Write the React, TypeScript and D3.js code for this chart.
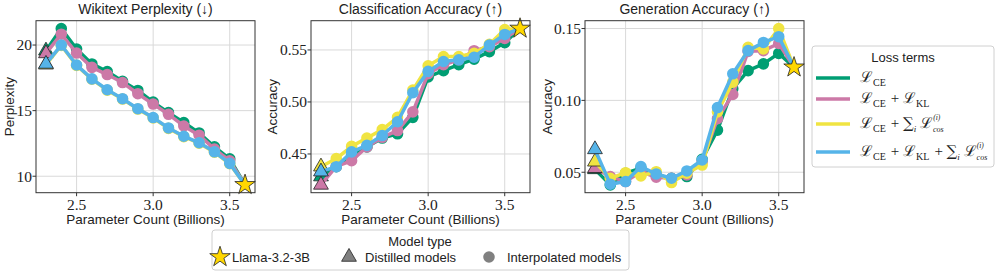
import React from "react";
import * as d3 from "d3";

// interpolated models sit between the distilled model (2.3B) and Llama (3.6B)
const interpX = [2.4, 2.5, 2.6, 2.7, 2.8, 2.9, 3.0, 3.1, 3.2, 3.3, 3.4, 3.5];
const distilledX = 2.3;
const llamaX = 3.6;

const lossNames = ["CE", "CE+KL", "CE+cos", "CE+KL+cos"];
const colors = ["#009E73", "#CC79A7", "#F0E442", "#56B4E9"];

// Wikitext perplexity
const pplSeries = [
  [21.26, 19.7, 18.56, 17.98, 17.24, 16.54, 15.65, 14.85, 14.09, 13.3, 12.24, 11.33],
  [20.83, 19.39, 18.3, 17.75, 17.14, 16.29, 15.5, 14.72, 13.83, 13.13, 12.07, 11.18],
  [19.97, 18.45, 17.39, 16.56, 15.88, 15.12, 14.44, 13.65, 13.02, 12.52, 11.83, 10.95],
  [20.0, 18.48, 17.42, 16.59, 15.91, 15.15, 14.47, 13.68, 13.05, 12.55, 11.86, 10.98],
];
const pplDistilled = [19.57, 19.36, 18.5, 18.56];
const pplLlama = 9.34;

// classification accuracy
const clsSeries = [
  [0.4378, 0.4473, 0.4567, 0.4653, 0.4694, 0.4852, 0.5241, 0.5301, 0.5358, 0.5412, 0.5484, 0.5569],
  [0.438, 0.4435, 0.4567, 0.466, 0.4725, 0.4905, 0.5272, 0.5358, 0.5405, 0.5493, 0.5531, 0.5611],
  [0.4456, 0.4573, 0.4653, 0.4734, 0.4852, 0.5114, 0.5348, 0.5437, 0.5437, 0.5468, 0.5554, 0.5696],
  [0.4378, 0.452, 0.4583, 0.4677, 0.481, 0.5089, 0.5294, 0.5389, 0.5405, 0.543, 0.5547, 0.5649],
];
const clsDistilled = [0.4283, 0.4203, 0.4378, 0.433];
const clsLlama = 0.5706;

// generation accuracy
const genSeries = [
  [0.0412, 0.0493, 0.0528, 0.0481, 0.0458, 0.047, 0.059, 0.0793, 0.1081, 0.1207, 0.1254, 0.1327],
  [0.047, 0.0435, 0.0504, 0.0465, 0.0458, 0.0481, 0.0573, 0.0873, 0.1041, 0.1341, 0.1346, 0.1396],
  [0.0458, 0.0497, 0.0474, 0.0504, 0.0428, 0.0493, 0.055, 0.0919, 0.1127, 0.1369, 0.1358, 0.15],
  [0.0417, 0.0435, 0.0539, 0.0488, 0.0458, 0.0509, 0.0585, 0.095, 0.1185, 0.1346, 0.1403, 0.1443],
];
const genDistilled = [0.052, 0.0528, 0.0573, 0.0659];
const genLlama = 0.123;

const xTicks = [2.5, 3.0, 3.5];

const panels = [
  { title: "Wikitext Perplexity (\u2193)", ylabel: "Perplexity", series: pplSeries, distilled: pplDistilled, llama: pplLlama, yTicks: [10, 15, 20], fmt: d3.format("d"), left: 36, labelOff: 22 },
  { title: "Classification Accuracy (\u2191)", ylabel: "Accuracy", series: clsSeries, distilled: clsDistilled, llama: clsLlama, yTicks: [0.45, 0.5, 0.55], fmt: d3.format(".2f"), left: 311, labelOff: 34 },
  { title: "Generation Accuracy (\u2191)", ylabel: "Accuracy", series: genSeries, distilled: genDistilled, llama: genLlama, yTicks: [0.05, 0.1, 0.15], fmt: d3.format(".2f"), left: 585, labelOff: 33 },
];

const W = 219;
const TOP = 20.7;
const BOTTOM = 192.7;
const sans = "'Liberation Sans', Arial, sans-serif";
const serif = "'Liberation Serif', 'DejaVu Serif', serif";
const mathF = "'DejaVu Serif', serif";

const star = d3.symbol().type(d3.symbolStar).size(130)();
const tri = d3.symbol().type(d3.symbolTriangle).size(95)();
const dot = d3.symbol().type(d3.symbolCircle).size(105)();

function Panel({ p }: { p: any }) {
  const x = d3.scaleLinear().domain([2.235, 3.665]).range([p.left, p.left + W]);
  const all = [...p.series.flat(), ...p.distilled, p.llama];
  const [lo, hi] = d3.extent(all) as [number, number];
  const pad = (hi - lo) * 0.05;
  const y = d3.scaleLinear().domain([lo - pad, hi + pad]).range([BOTTOM, TOP]);
  const line = d3.line<[number, number]>().x((d) => x(d[0])).y((d) => y(d[1]));
  const cx = p.left + W / 2;
  return (
    <g>
      {xTicks.map((t) => (
        <line key={"gx" + t} x1={x(t)} x2={x(t)} y1={TOP} y2={BOTTOM} stroke="#d9d9d9" strokeWidth={1} />
      ))}
      {p.yTicks.map((t: number) => (
        <line key={"gy" + t} x1={p.left} x2={p.left + W} y1={y(t)} y2={y(t)} stroke="#d9d9d9" strokeWidth={1} />
      ))}
      {p.series.map((s: number[], i: number) => {
        const pts: [number, number][] = [[distilledX, p.distilled[i]], ...interpX.map((v, j) => [v, s[j]] as [number, number]), [llamaX, p.llama]];
        return (
          <g key={"s" + i}>
            <path d={line(pts) as string} fill="none" stroke={colors[i]} strokeWidth={3.5} strokeLinejoin="round" />
            {interpX.map((v, j) => (
              <path key={j} d={dot} transform={`translate(${x(v)},${y(s[j])})`} fill={colors[i]} />
            ))}
            <path d={tri} transform={`translate(${x(distilledX)},${y(p.distilled[i])})`} fill={colors[i]} stroke="#222" strokeWidth={0.8} />
          </g>
        );
      })}
      <path d={star} transform={`translate(${x(llamaX)},${y(p.llama)})`} fill="#FFD700" stroke="#222" strokeWidth={0.8} />
      <rect x={p.left} y={TOP} width={W} height={BOTTOM - TOP} fill="none" stroke="#333" strokeWidth={1} />
      {xTicks.map((t) => (
        <g key={"tx" + t}>
          <line x1={x(t)} x2={x(t)} y1={BOTTOM} y2={BOTTOM + 3.5} stroke="#333" />
          <text x={x(t)} y={209.5} textAnchor="middle" fontFamily={serif} fontSize={15.5} fill="#222">
            {d3.format(".1f")(t)}
          </text>
        </g>
      ))}
      {p.yTicks.map((t: number) => (
        <g key={"ty" + t}>
          <line x1={p.left - 3.5} x2={p.left} y1={y(t)} y2={y(t)} stroke="#333" />
          <text x={p.left - 4} y={y(t)} dy="0.35em" textAnchor="end" fontFamily={serif} fontSize={15.5} fill="#222">
            {p.fmt(t)}
          </text>
        </g>
      ))}
      <text x={cx} y={14} textAnchor="middle" fontFamily={sans} fontSize={14} fill="#222">{p.title}</text>
      <text x={cx} y={224} textAnchor="middle" fontFamily={sans} fontSize={13.5} fill="#222">Parameter Count (Billions)</text>
      <text transform={`translate(${p.left - p.labelOff},${(TOP + BOTTOM) / 2}) rotate(-90)`} textAnchor="middle" fontFamily={sans} fontSize={13.5} fill="#222">
        {p.ylabel}
      </text>
    </g>
  );
}

function L({ sub }: { sub: string }) {
  return (
    <>
      <tspan fontFamily={mathF}>{"\u2112"}</tspan>
      <tspan fontSize={10} dy={4}>{sub}</tspan>
      <tspan dy={-4}>{"\u200A"}</tspan>
    </>
  );
}

function Sum() {
  return (
    <>
      <tspan fontFamily={mathF}>{"\u2211"}</tspan>
      <tspan fontSize={9} fontStyle="italic" dy={4}>i</tspan>
      <tspan dy={-4}>{" "}</tspan>
    </>
  );
}

function Lcos() {
  return (
    <>
      <tspan fontFamily={mathF}>{"\u2112"}</tspan>
      <tspan fontSize={8} fontStyle="italic" dy={4}>cos</tspan>
      <tspan fontSize={7.5} fontStyle="italic" dx={-10.5} dy={-12}>(i)</tspan>
      <tspan dy={8}>{""}</tspan>
    </>
  );
}

function LossLegend() {
  const ys = [78, 99, 124, 152];
  const labels = [
    <L sub="CE" />,
    <><L sub="CE" /><tspan> + </tspan><L sub="KL" /></>,
    <><L sub="CE" /><tspan> + </tspan><Sum /><Lcos /></>,
    <><L sub="CE" /><tspan> + </tspan><L sub="KL" /><tspan> + </tspan><Sum /><Lcos /></>,
  ];
  return (
    <g>
      <rect x={812} y={46} width={182} height={121} rx={3} fill="#fff" fillOpacity={0.8} stroke="#d0d0d0" />
      <text x={903} y={62} textAnchor="middle" fontFamily={sans} fontSize={13} fill="#222">Loss terms</text>
      {lossNames.map((n, i) => (
        <g key={n}>
          <line x1={816} x2={850} y1={ys[i]} y2={ys[i]} stroke={colors[i]} strokeWidth={3.5} />
          <text x={860} y={ys[i] + 4} fontFamily={serif} fontSize={15} fill="#222">{labels[i]}</text>
        </g>
      ))}
    </g>
  );
}

function TypeLegend() {
  const yy = 257;
  return (
    <g>
      <rect x={212} y={230} width={417} height={40} rx={3} fill="#fff" fillOpacity={0.8} stroke="#d0d0d0" />
      <text x={420} y={246} textAnchor="middle" fontFamily={sans} fontSize={13} fill="#222">Model type</text>
      <path d={star} transform={`translate(220,${yy})`} fill="#FFD700" stroke="#222" strokeWidth={0.8} />
      <text x={232} y={yy + 5} fontFamily={sans} fontSize={13} fill="#222">Llama-3.2-3B</text>
      <path d={tri} transform={`translate(349,${yy})`} fill="#808080" stroke="#222" strokeWidth={0.8} />
      <text x={365} y={yy + 5} fontFamily={sans} fontSize={13} fill="#222">Distilled models</text>
      <path d={dot} transform={`translate(489,${yy})`} fill="#808080" />
      <text x={507} y={yy + 5} fontFamily={sans} fontSize={13} fill="#222">Interpolated models</text>
    </g>
  );
}

export default function App() {
  return (
    <svg width={996} height={280} style={{ position: "absolute", left: 0, top: 0, background: "#fff" }}>
      {panels.map((p) => (
        <Panel key={p.title} p={p} />
      ))}
      <LossLegend />
      <TypeLegend />
    </svg>
  );
}
